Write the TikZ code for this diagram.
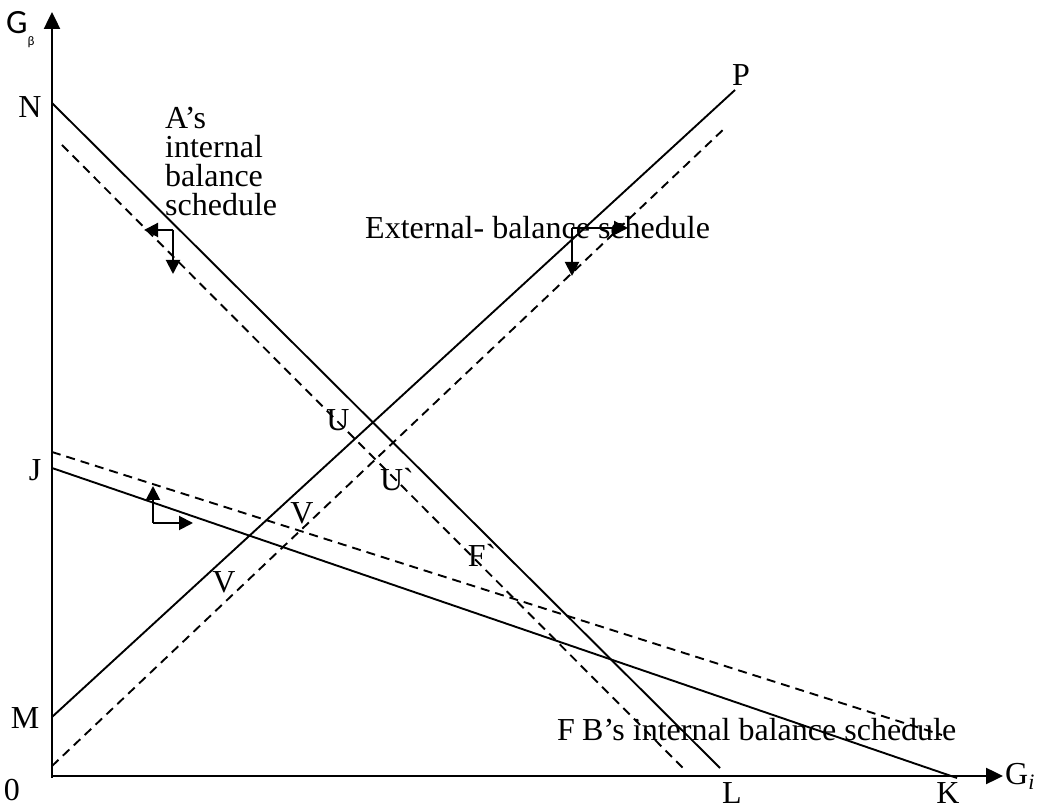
\documentclass[tikz,border=0pt]{standalone}
\usepackage{fontspec}
\setmainfont{Liberation Serif}
\newfontfamily\axisfont{Carlito}
\usetikzlibrary{arrows.meta}

\tikzset{
    courbe/.style={line width=1.9pt},
    courbepointillee/.style={line width=1.9pt,dash pattern=on 9pt off 6pt},
    axe/.style={line width=2.4pt,-{Triangle[length=17pt,width=16pt]}},
    fleche/.style={line width=2pt,-{Triangle[length=14pt,width=14pt]}},
    etiquette/.style={font=\fontsize{32}{32}\selectfont,inner sep=0pt}
}

\begin{document}
\begin{tikzpicture}[x=1pt,y=1pt]

\useasboundingbox (0,0) rectangle (1046,810);

% Axes
\coordinate (O) at (52,34);
\coordinate (Ghaut) at (52,798);
\coordinate (Gdroite) at (1003,34);

\draw[axe]
(52,32)
--
(Ghaut);

\draw[axe]
(O)
--
(Gdroite);

\node[font=\axisfont\fontsize{34}{34}\selectfont,inner sep=0pt,anchor=base west] (gbeta)
at (6,776)
{G\raisebox{-12pt}{\fontsize{13}{13}\selectfont β}};

\node[etiquette,anchor=west] (gi)
at (1005,34)
{G\raisebox{-5pt}{\fontsize{22}{22}\selectfont\itshape i}};

% Points sur les axes
\node[etiquette] (zero) at (12,20) {0};
\node[etiquette] (lm) at (25,92) {M};
\node[etiquette] (lj) at (35,340) {J};
\node[etiquette] (ln) at (30,703) {N};
\node[etiquette] (ll) at (732,17) {L};
\node[etiquette] (lk) at (948,17) {K};
\node[etiquette] (lp) at (741,735) {P};

% Droite de A
\coordinate (N) at (52,707);
\coordinate (L) at (720,42);
\draw[courbe] (N) -- (L);

\coordinate (Nd) at (62,665);
\coordinate (Ld) at (683,42);
\draw[courbepointillee] (Nd) -- (Ld);

% Droite externe
\coordinate (M) at (52,93);
\coordinate (P) at (735,720);
\draw[courbe] (M) -- (P);

\coordinate (Md) at (52,44);
\coordinate (Pd) at (726,683);
\draw[courbepointillee] (Md) -- (Pd);

% Droite de B
\coordinate (J) at (52,342);
\coordinate (K) at (957,32);
\draw[courbe] (J) -- (K);

\coordinate (Jd) at (52,358);
\coordinate (Kd) at (942,75);
\draw[courbepointillee] (Jd) -- (Kd);

% Petites fleches
\coordinate (coinA) at (173,580);
\draw[fleche] (coinA) -- (144,580);
\draw[fleche] (coinA) -- (173,536);

\coordinate (coinE) at (572,582);
\draw[fleche] (coinE) -- (628,582);
\draw[fleche] (coinE) -- (572,534);

\coordinate (coinB) at (153,287);
\draw[fleche] (coinB) -- (153,324);
\draw[fleche] (coinB) -- (193,287);

% Textes
\node[etiquette,anchor=north west,align=left,
      font=\fontsize{32}{29}\selectfont] (textA)
at (165,703)
{A’s\\internal\\balance\\schedule};

\node[etiquette,anchor=west] (textE)
at (365,582)
{External- balance schedule};

\node[etiquette,anchor=west] (textB)
at (582,80)
{B’s internal balance schedule};

% Intersections
\node[etiquette] (u) at (338,390) {U};
\node[etiquette] (ud) at (397,330) {U\textasciigrave};
\node[etiquette] (v) at (302,297) {V};
\node[etiquette] (vd) at (224,228) {V};
\node[etiquette] (fd) at (482,255) {F\textasciigrave};
\node[etiquette] (f) at (566,80) {F};

\end{tikzpicture}
\end{document}
